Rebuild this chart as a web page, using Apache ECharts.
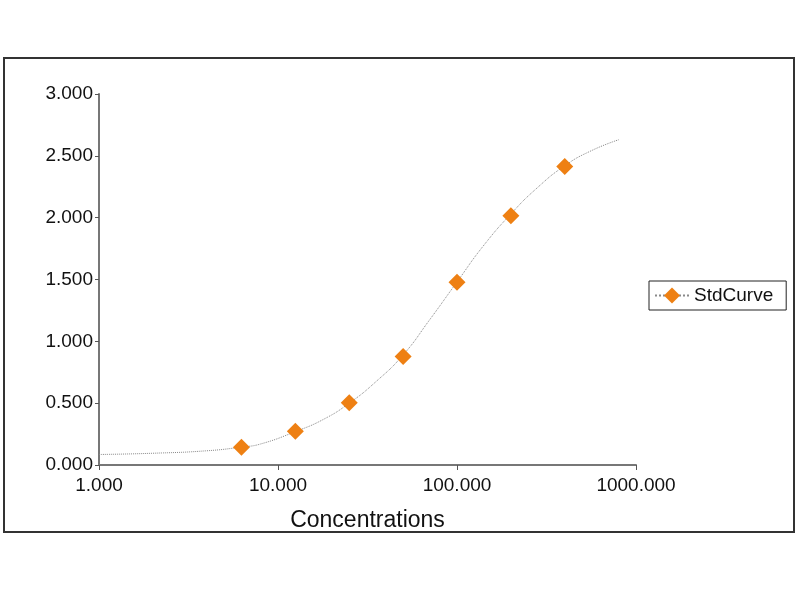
<!DOCTYPE html>
<html>
<head>
<meta charset="utf-8">
<script src="https://cdn.jsdelivr.net/npm/echarts@6/dist/echarts.min.js"></script>
<style>
  html, body { margin: 0; padding: 0; background: #fff; }
  #chart { width: 800px; height: 600px; }
</style>
</head>
<body>
<div id="chart"></div>
<script>
// standard points (concentration, OD)
const stdConc = [6.25, 12.5, 25, 50, 100, 200, 400];
const stdOd = [0.144, 0.273, 0.503, 0.877, 1.478, 2.015, 2.413];

// fitted curve
const curveConc = [1, 2, 4, 6.25, 8, 12.5, 18, 25, 35, 50, 70, 100, 140, 200, 280, 400, 560, 800];
const curveOd = [0.085, 0.095, 0.115, 0.145, 0.17, 0.27, 0.37, 0.5, 0.67, 0.89, 1.17, 1.48, 1.77, 2.03, 2.24, 2.42, 2.54, 2.63];

const seriesName = 'StdCurve';
const xTitle = 'Concentrations';

const chart = echarts.init(document.getElementById('chart'));

const fmt3 = (v) => Number(v).toFixed(3);

const option = {
  backgroundColor: '#fff',
  animation: false,
  textStyle: { fontFamily: 'Liberation Sans, Arial, sans-serif' },
  graphic: [
    {
      type: 'rect',
      shape: { x: 4, y: 58, width: 790, height: 474 },
      style: { fill: 'none', stroke: '#333', lineWidth: 2 },
      silent: true,
    },
  ],
  grid: { left: 99, right: 164, top: 94, bottom: 135 },
  legend: {
    data: [seriesName],
    orient: 'vertical',
    left: 649,
    top: 281,
    padding: [5, 13, 5, 5],
    itemWidth: 34,
    itemHeight: 20,
    itemGap: 4,
    borderColor: '#222',
    borderWidth: 1,
    borderRadius: 0,
    textStyle: { fontSize: 19, color: '#111' },
  },
  xAxis: {
    type: 'log',
    logBase: 10,
    min: 1,
    max: 1000,
    name: xTitle,
    nameLocation: 'middle',
    nameGap: 44,
    nameTextStyle: { fontSize: 23, color: '#111' },
    axisLine: { lineStyle: { color: '#777', width: 2 } },
    axisTick: { show: true, length: 5, lineStyle: { color: '#555' } },
    minorTick: { show: false },
    splitLine: { show: false },
    axisLabel: { fontSize: 19, color: '#111', margin: 11, formatter: fmt3 },
  },
  yAxis: {
    type: 'value',
    min: 0,
    max: 3,
    interval: 0.5,
    axisLine: { show: true, lineStyle: { color: '#777', width: 2 } },
    axisTick: { show: true, length: 4, lineStyle: { color: '#555' } },
    splitLine: { show: false },
    axisLabel: { fontSize: 19, color: '#111', margin: 6, formatter: fmt3 },
  },
  series: [
    {
      name: seriesName,
      type: 'line',
      data: curveConc.map((c, i) => [c, curveOd[i]]),
      smooth: true,
      showSymbol: false,
      symbol: 'diamond',
      symbolSize: 16,
      itemStyle: { color: '#ee8013' },
      lineStyle: { color: '#8a8a8a', width: 1, type: 'dotted' },
      z: 1,
    },
    {
      name: seriesName,
      type: 'scatter',
      data: stdConc.map((c, i) => [c, stdOd[i]]),
      symbol: 'diamond',
      symbolSize: 17,
      itemStyle: { color: '#ee8013', opacity: 1 },
      z: 3,
    },
  ],
};

chart.setOption(option);
</script>
</body>
</html>
